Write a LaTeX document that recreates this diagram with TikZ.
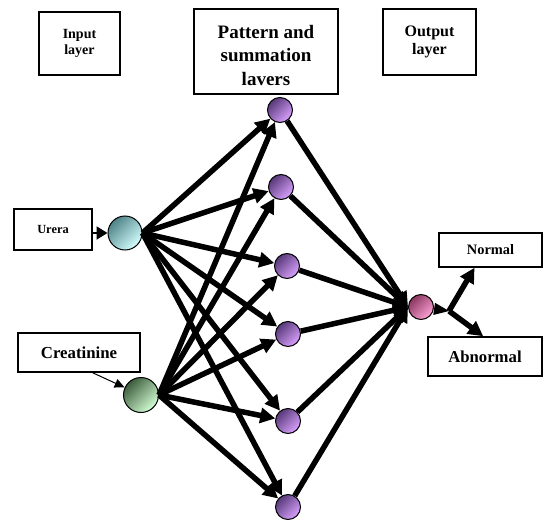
\documentclass[tikz,border=0pt]{standalone}
\usepackage{fontspec}
\setmainfont{Liberation Serif}
\usetikzlibrary{arrows.meta}

\definecolor{ureatop}{HTML}{4F8387}
\definecolor{ureabot}{HTML}{D4FFFF}
\definecolor{creatop}{HTML}{3C5C3C}
\definecolor{creabot}{HTML}{D4FFD4}
\definecolor{pattop}{HTML}{573878}
\definecolor{patbot}{HTML}{DAA2FF}
\definecolor{outtop}{HTML}{88365F}
\definecolor{outbot}{HTML}{FFA2D6}

\begin{document}
\begin{tikzpicture}[x=1pt, y=-1pt,
  box/.style={draw, line width=1.5pt, fill=white, align=center, inner sep=0pt},
  neuron/.style={circle, draw, line width=1pt, minimum size=25pt, inner sep=0pt},
  ureaball/.style={top color=ureatop, bottom color=ureabot, shading angle=45},
  creaball/.style={top color=creatop, bottom color=creabot, shading angle=45},
  patball/.style={top color=pattop, bottom color=patbot, shading angle=45},
  outball/.style={top color=outtop, bottom color=outbot, shading angle=45},
  link/.style={line width=5.5pt, -{Triangle[length=15pt,width=15pt]}}]
  \useasboundingbox (0,0) rectangle (543,524);
  % Draw layer titles
  \node[box, minimum width=81pt, minimum height=63pt,
    font=\bfseries\fontsize{14}{16}\selectfont] (inlayer) at (79.5,43.5) {Input\\layer};
  \node[box, minimum width=144pt, minimum height=85pt,
    label={[align=center, yshift=-4pt, font=\bfseries\fontsize{19}{23.5}\selectfont]center:Pattern and\\summation\\lavers}]
    (patlayer) at (266,51.5) {};
  \node[box, minimum width=93pt, minimum height=66pt,
    font=\bfseries\fontsize{16}{18}\selectfont] (outlayer) at (429.5,42) {Output\\layer};
  % Draw input boxes and neurons
  \node[box, minimum width=78pt, minimum height=41pt,
    font=\bfseries\fontsize{12.4}{14}\selectfont] (ubox) at (53,229.5) {Urera};
  \node[box, minimum width=122pt, minimum height=39pt,
    font=\bfseries\fontsize{16.8}{19}\selectfont] (cbox) at (79,352.5) {Creatinine};
  \node[neuron, minimum size=34pt, ureaball] (u) at (125,233) {};
  \node[neuron, minimum size=35pt, creaball] (c) at (141,395) {};
  % Draw pattern neurons
  \foreach \n/\x/\y in {1/280/110, 2/281/187, 3/287/266, 4/288/334, 5/288/421, 6/288/507}
    \node[neuron, patball] (p\n) at (\x,\y) {};
  \node[neuron, outball] (o) at (421,307) {};
  % Draw output boxes
  \node[box, minimum width=103pt, minimum height=34pt,
    font=\bfseries\fontsize{14.4}{16}\selectfont] (nbox) at (490.5,250) {Normal};
  \node[box, minimum width=114pt, minimum height=39pt,
    font=\bfseries\fontsize{16.7}{19}\selectfont] (abox) at (485,356.5) {Abnormal};
  \coordinate (split) at (449,311);
  % Draw connections
  \draw[line width=2pt, -{Triangle[length=11pt,width=13pt]}] (u.west -| ubox.east) -- (u.west);
  \draw[line width=1pt, -{Triangle[length=10pt,width=9pt]}] (cbox.304) -- (c);
  \foreach \n in {1,...,6} {
    \draw[link] (u.east) -- (p\n);
    \draw[link] (c.east) -- (p\n);
    \draw[link] (p\n) -- (o.west);
  }
  \draw[line width=1pt, -{Triangle[length=15pt,width=12pt]}] (o) -- (split);
  \draw[link] (split) -- (nbox.228);
  \draw[link] (split) -- (abox.95);
\end{tikzpicture}
\end{document}
